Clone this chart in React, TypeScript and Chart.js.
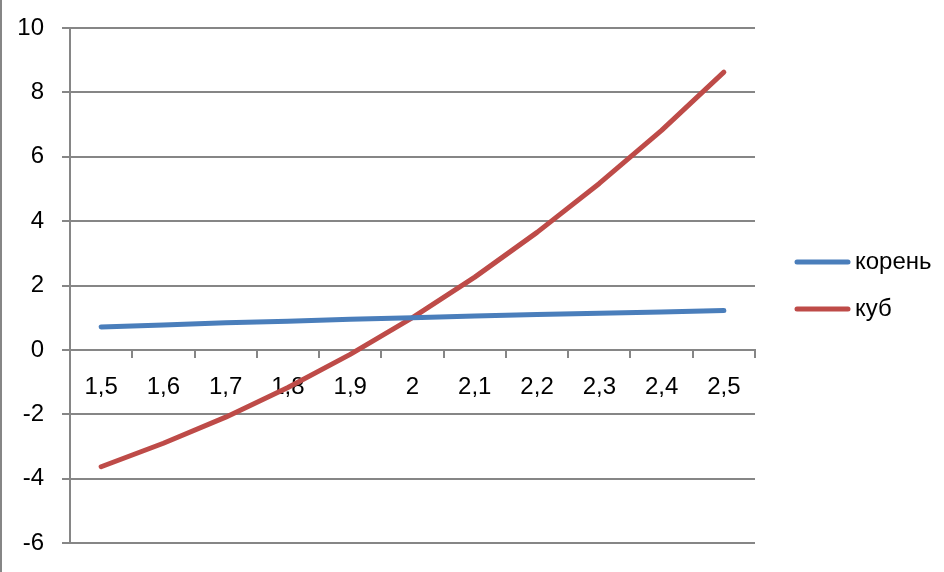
import React, { useEffect, useRef } from "react";
import { Chart, registerables } from "chart.js";

Chart.register(...registerables);

const categories = ["1,5", "1,6", "1,7", "1,8", "1,9", "2", "2,1", "2,2", "2,3", "2,4", "2,5"];
const korenValues = [0.71, 0.77, 0.84, 0.89, 0.95, 1.0, 1.05, 1.1, 1.14, 1.18, 1.22];
const kubValues = [-3.63, -2.9, -2.09, -1.17, -0.14, 1.0, 2.26, 3.65, 5.17, 6.82, 8.63];
const seriesNames = ["корень", "куб"];
const seriesColors = ["#4A7EBB", "#BE4B48"];
const yMin = -6;
const yMax = 10;
const yStep = 2;

const FONT = "'Liberation Sans', Arial, sans-serif";
const GRID = "#868686";

const decorPlugin = {
  id: "decor",
  beforeDraw(chart: any) {
    const ctx = chart.ctx;
    ctx.save();
    ctx.fillStyle = "#ffffff";
    ctx.fillRect(0, 0, chart.width, chart.height);
    ctx.strokeStyle = GRID;
    ctx.lineWidth = 2;
    ctx.beginPath();
    ctx.moveTo(1, 0);
    ctx.lineTo(1, chart.height);
    ctx.stroke();
    ctx.restore();
  },
  afterDraw(chart: any) {
    const ctx = chart.ctx;
    ctx.save();
    const x0 = 797;
    const x1 = 848;
    const ys = [262, 309];
    chart.data.datasets.forEach((ds: any, i: number) => {
      const y = ys[i];
      ctx.strokeStyle = ds.borderColor;
      ctx.lineWidth = 5;
      ctx.lineCap = "round";
      ctx.beginPath();
      ctx.moveTo(x0, y);
      ctx.lineTo(x1, y);
      ctx.stroke();
      ctx.fillStyle = "#000000";
      ctx.font = `24px ${FONT}`;
      ctx.textAlign = "left";
      ctx.textBaseline = "middle";
      ctx.fillText(ds.label, 855, y);
    });
    ctx.restore();
  },
};

export default function App() {
  const ref = useRef<HTMLCanvasElement | null>(null);

  useEffect(() => {
    if (!ref.current) return;
    const chart = new Chart(ref.current, {
      type: "line",
      data: {
        labels: categories,
        datasets: [
          {
            label: seriesNames[0],
            data: korenValues,
            borderColor: seriesColors[0],
            backgroundColor: seriesColors[0],
            borderWidth: 5,
            pointRadius: 0,
            borderCapStyle: "round",
            borderJoinStyle: "round",
            tension: 0,
          },
          {
            label: seriesNames[1],
            data: kubValues,
            borderColor: seriesColors[1],
            backgroundColor: seriesColors[1],
            borderWidth: 5,
            pointRadius: 0,
            borderCapStyle: "round",
            borderJoinStyle: "round",
            tension: 0,
          },
        ],
      },
      options: {
        animation: false,
        responsive: false,
        layout: { autoPadding: false, padding: { left: 0, top: 28, right: 189, bottom: 29 } },
        plugins: {
          legend: { display: false },
          tooltip: { enabled: false },
        },
        scales: {
          x: {
            type: "category",
            position: { y: 0 } as any,
            offset: true,
            grid: {
              offset: true,
              drawOnChartArea: false,
              drawTicks: true,
              tickLength: 7,
              color: GRID,
              lineWidth: 2,
            },
            border: { color: GRID, width: 2 },
            ticks: {
              color: "#000000",
              font: { family: FONT, size: 24 },
              padding: 16,
              maxRotation: 0,
              autoSkip: false,
            },
            afterFit(scale: any) {
              scale.paddingLeft = 0;
              scale.paddingRight = 0;
            },
          },
          y: {
            type: "linear",
            min: yMin,
            max: yMax,
            ticks: {
              stepSize: yStep,
              color: "#000000",
              font: { family: FONT, size: 24 },
              padding: 18,
            },
            grid: {
              color: GRID,
              lineWidth: 2,
              tickLength: 8,
            },
            border: { color: GRID, width: 2 },
            afterFit(scale: any) {
              scale.width = 70;
              scale.paddingTop = 0;
              scale.paddingBottom = 0;
            },
          },
        },
      },
      plugins: [decorPlugin],
    });
    return () => chart.destroy();
  }, []);

  return (
    <div style={{ position: "fixed", left: 0, top: 0, width: 944, height: 572, background: "#fff" }}>
      <canvas ref={ref} width={944} height={572} style={{ display: "block" }} />
    </div>
  );
}
